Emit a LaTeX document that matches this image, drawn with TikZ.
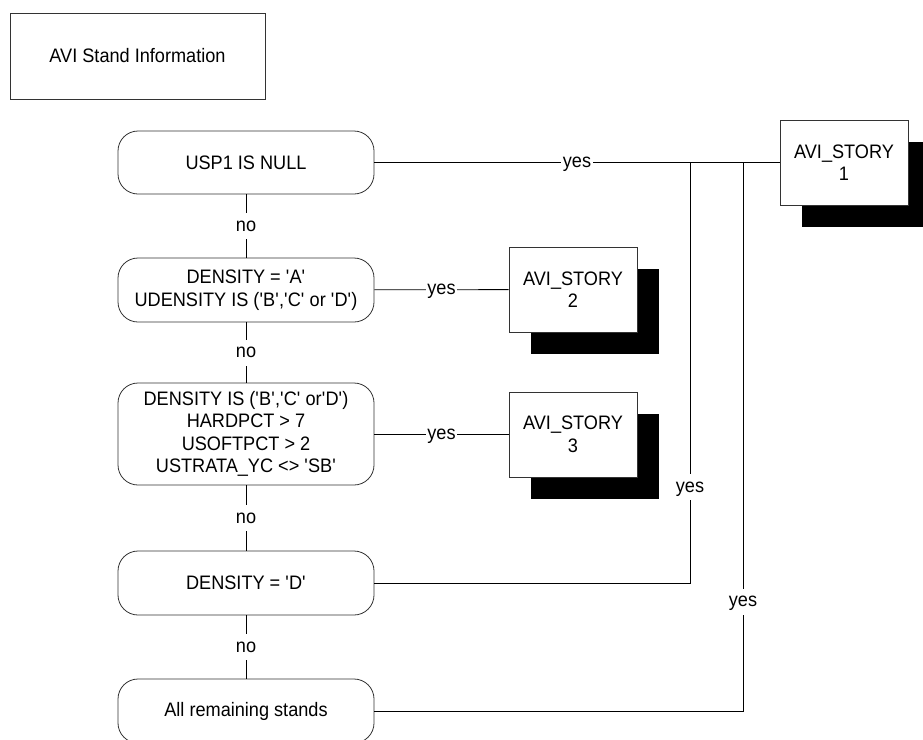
\documentclass[tikz,border=0pt]{standalone}
\usepackage{fontspec}
\setmainfont{Liberation Sans}[FakeStretch=0.93]
\usetikzlibrary{shadows}
\newcommand{\sq}{\textquotesingle}
\begin{document}
\begin{tikzpicture}[x=1pt,y=-1pt,
  every node/.style={font=\fontsize{19.5}{22.5}\selectfont},
  cond/.style={draw=black!80, line width=0.8pt, rounded corners=20pt, minimum width=256pt, align=center, inner sep=0pt},
  plainbox/.style={draw=black!80, line width=0.8pt, align=center, inner sep=0pt},
  story/.style={draw=black!80, fill=white, line width=0.8pt, minimum width=128pt, minimum height=85pt, align=center, inner sep=0pt,
    general shadow={fill=black, shadow xshift=22pt, shadow yshift=-22pt}},
  lbl/.style={fill=white, inner xsep=1.5pt, inner ysep=4pt, text height=14pt, text depth=4pt},
  conn/.style={line width=0.8pt}]
\path[use as bounding box] (0,0) rectangle (923,739);
\clip (0,0) rectangle (923,739);
\fill[white] (0,0) rectangle (923,739);

\node[plainbox, minimum width=255pt, minimum height=86pt] (title) at (137.5,56) {AVI Stand Information};

\node[cond, minimum height=63pt] (usp) at (246,162.5) {USP1 IS NULL};
\node[cond, minimum height=64pt] (densa) at (246,290) {DENSITY = \sq A\sq\\UDENSITY IS (\sq B\sq,\sq C\sq{} or \sq D\sq)};
\node[cond, minimum height=102pt] (b3) at (246,434) {DENSITY IS (\sq B\sq,\sq C\sq{} or\sq D\sq)\\HARDPCT > 7\\USOFTPCT > 2\\USTRATA\_YC <> \sq SB\sq};
\node[cond, minimum height=64pt] (dd) at (246,583) {DENSITY = \sq D\sq};
\node[cond, minimum height=64pt] (all) at (246,711) {All remaining stands};

\node[story] (avi1) at (844,162.5) {AVI\_STORY\\1};
\node[story] (avi2) at (573,289.5) {AVI\_STORY\\2};
\node[story] (avi3) at (573,434.5) {AVI\_STORY\\3};

\coordinate (j1) at (690,162.5);
\coordinate (j2) at (743,162.5);

\draw[conn] (usp) -- node[lbl]{yes} (avi1);
\draw[conn] (densa) -- node[lbl]{yes} (avi2);
\draw[conn] (b3.east) -- node[lbl]{yes} (avi3.west |- b3.east);
\draw[conn] (dd.east) -- (dd.east -| j1) -- node[lbl, pos=0.228]{yes} (j1);
\draw[conn] (all.east) -- (all.east -| j2) -- node[lbl, pos=0.199]{yes} (j2);

\draw[conn] (usp) -- node[lbl]{no} (densa);
\draw[conn] (densa) -- node[lbl]{no} (b3);
\draw[conn] (b3) -- node[lbl]{no} (dd);
\draw[conn] (dd) -- node[lbl]{no} (all);
\end{tikzpicture}
\end{document}
